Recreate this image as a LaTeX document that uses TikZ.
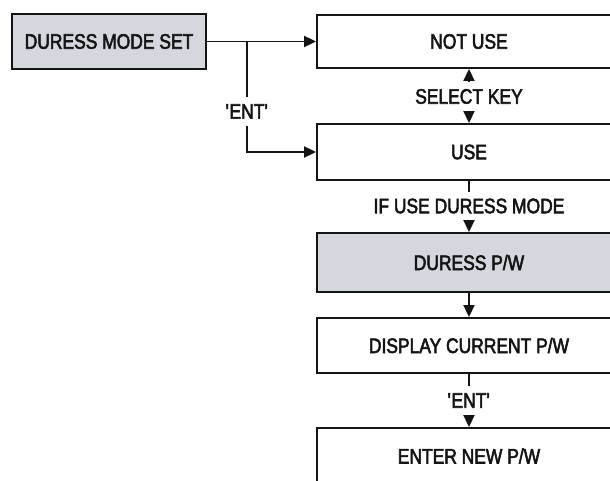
\documentclass[tikz,border=0pt]{standalone}
\usepackage{fontspec}
\setmainfont[FakeStretch=0.83,FakeBold=2.6]{Liberation Sans}
\usetikzlibrary{arrows.meta}
\definecolor{shade}{HTML}{D4D7DE}
\definecolor{ink}{HTML}{141414}
\tikzset{
  box/.style={draw=ink, line width=1.9pt, minimum width=304pt, inner sep=0pt,
    font=\fontsize{21}{24}\selectfont, text=ink},
  shadedbox/.style={box, fill=shade},
  lbl/.style={inner xsep=2pt, inner ysep=0pt, minimum height=28pt,
    font=\fontsize{21}{24}\selectfont, text=ink},
  conn/.style={draw=ink, line width=1.9pt},
  arr/.style={conn, -{Triangle[length=12pt,width=11pt]}}
}
\begin{document}
\begin{tikzpicture}[x=1pt,y=-1pt]
  \useasboundingbox (0,0) rectangle (610,481);
  \clip (0,0) rectangle (610,481);
  \fill[white] (0,0) rectangle (610,481);

  % boxes
  \node[shadedbox, minimum width=194pt, minimum height=55pt] (dms) at (109,41.5) {DURESS MODE SET};
  \node[box, minimum height=53pt] (notuse) at (469,41.5) {NOT USE};
  \node[box, minimum height=56pt] (use) at (469,152) {USE};
  \node[shadedbox, minimum height=59pt] (dpw) at (469,262.5) {DURESS P/W};
  \node[box, minimum height=55pt] (disp) at (469,345.5) {DISPLAY CURRENT P/W};
  \node[box, minimum height=56pt] (enter) at (469,456) {ENTER NEW P/W};

  % labels on the connectors
  \node[lbl] (ent1) at (247,111.5) {\textquotesingle ENT\textquotesingle};
  \node[lbl] (sel) at (469,96.5) {SELECT KEY};
  \node[lbl] (ifuse) at (469,206) {IF USE DURESS MODE};
  \node[lbl] (ent2) at (469,400.5) {\textquotesingle ENT\textquotesingle};

  % connectors
  \coordinate (j) at (247,41.5);
  \draw[arr] (dms.east) -- (notuse.west);
  \draw[conn] (j) -- (ent1.north);
  \draw[arr] (ent1.south) |- (use.west);
  \draw[arr] (sel.north) -- (notuse.south);
  \draw[arr] (sel.south) -- (use.north);
  \draw[conn] (use.south) -- (ifuse.north);
  \draw[arr] (ifuse.south) -- (dpw.north);
  \draw[arr] (dpw.south) -- (disp.north);
  \draw[conn] (disp.south) -- (ent2.north);
  \draw[arr] (ent2.south) -- (enter.north);
\end{tikzpicture}
\end{document}
